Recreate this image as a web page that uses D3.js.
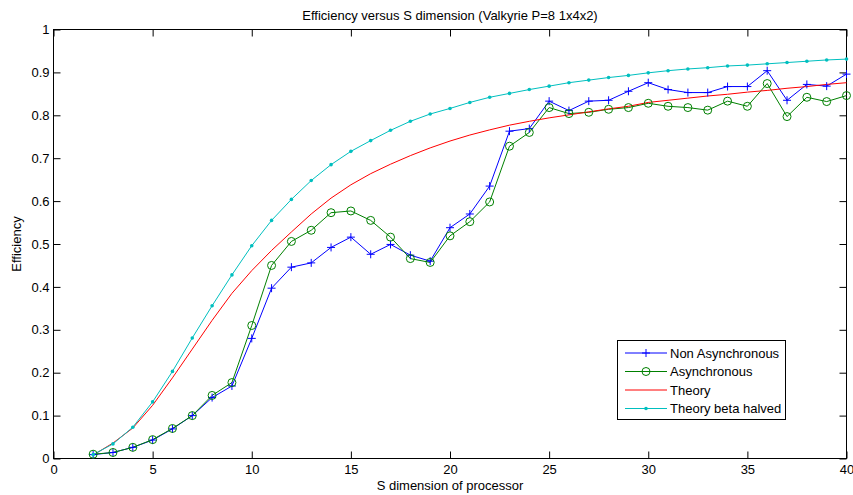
<!DOCTYPE html>
<html>
<head>
<meta charset="utf-8">
<script src="https://cdn.jsdelivr.net/npm/d3@7"></script>
<style>
  html, body { margin: 0; padding: 0; background: #fff; }
  svg { display: block; font-family: "Liberation Sans", Arial, sans-serif; }
</style>
</head>
<body>
<svg id="chart" width="853" height="495"></svg>
<script>
// ---- data ----
const sDim = [2,3,4,5,6,7,8,9,10,11,12,13,14,15,16,17,18,19,20,21,22,23,24,25,26,27,28,29,30,31,32,33,34,35,36,37,38,39,40];
const nonAsync = [0.009,0.014,0.026,0.043,0.069,0.100,0.142,0.169,0.280,0.397,0.446,0.456,0.492,0.516,0.476,0.499,0.474,0.460,0.538,0.570,0.635,0.763,0.769,0.833,0.811,0.833,0.835,0.856,0.876,0.860,0.853,0.853,0.867,0.867,0.904,0.835,0.872,0.868,0.896];
const asyncEff = [0.010,0.014,0.026,0.044,0.070,0.100,0.147,0.177,0.310,0.450,0.506,0.532,0.573,0.577,0.555,0.516,0.466,0.457,0.519,0.552,0.598,0.728,0.760,0.818,0.804,0.807,0.814,0.818,0.828,0.821,0.818,0.812,0.833,0.821,0.874,0.797,0.842,0.832,0.846];
const theory = [0.008,0.036,0.071,0.124,0.188,0.255,0.322,0.385,0.438,0.485,0.528,0.570,0.607,0.638,0.664,0.686,0.706,0.724,0.740,0.754,0.766,0.777,0.786,0.794,0.801,0.808,0.815,0.821,0.830,0.835,0.840,0.845,0.849,0.854,0.858,0.863,0.867,0.872,0.876];
const theoryHalf = [0.009,0.034,0.073,0.132,0.203,0.281,0.356,0.428,0.496,0.555,0.604,0.648,0.685,0.716,0.741,0.765,0.786,0.803,0.816,0.830,0.842,0.851,0.860,0.868,0.876,0.882,0.888,0.893,0.899,0.904,0.908,0.911,0.915,0.917,0.920,0.923,0.926,0.929,0.931];
const xTicks = [0,5,10,15,20,25,30,35,40];
const yTicks = [0,0.1,0.2,0.3,0.4,0.5,0.6,0.7,0.8,0.9,1];
const yTickLabels = ["0","0.1","0.2","0.3","0.4","0.5","0.6","0.7","0.8","0.9","1"];
const seriesNames = ["Non Asynchronous","Asynchronous","Theory","Theory beta halved"];
const titleText = "Efficiency versus S dimension (Valkyrie P=8 1x4x2)";
const xLabelText = "S dimension of processor";
const yLabelText = "Efficiency";

// ---- layout ----
const svg = d3.select("#chart");
const L = 53.5, R = 846.5, T = 29.5, B = 458.5;
const x = d3.scaleLinear().domain([0, 40]).range([L, R]);
const y = d3.scaleLinear().domain([0, 1]).range([B, T]);
const fontSize = 13;
const tickLen = 7;

// axes
const yLabelMap = new Map(yTicks.map((t, i) => [t, yTickLabels[i]]));
const gx = svg.append("g").attr("transform", `translate(0,${B})`)
  .call(d3.axisBottom(x).tickValues(xTicks).tickSize(-tickLen).tickSizeOuter(0).tickPadding(6).tickFormat(d3.format("d")));
const gxt = svg.append("g").attr("transform", `translate(0,${T})`)
  .call(d3.axisTop(x).tickValues(xTicks).tickSize(-tickLen).tickSizeOuter(0).tickFormat(""));
const gy = svg.append("g").attr("transform", `translate(${L},0)`)
  .call(d3.axisLeft(y).tickValues(yTicks).tickSize(-tickLen).tickSizeOuter(0).tickPadding(4).tickFormat(d => yLabelMap.get(d)));
const gyr = svg.append("g").attr("transform", `translate(${R},0)`)
  .call(d3.axisRight(y).tickValues(yTicks).tickSize(-tickLen).tickSizeOuter(0).tickFormat(""));
[gx, gxt, gy, gyr].forEach(g => {
  g.select(".domain").remove();
  g.selectAll(".tick line").attr("stroke", "#000");
  g.selectAll("text").attr("fill", "#000").style("font-size", fontSize + "px").style("font-family", "'Liberation Sans', Arial, sans-serif");
});

// frame
svg.append("rect").attr("x", L).attr("y", T).attr("width", R - L).attr("height", B - T)
  .attr("fill", "none").attr("stroke", "#000").attr("stroke-width", 1);

// series
const colors = ["#0000ff", "#008000", "#ff0000", "#00bfbf"];
const allSeries = [nonAsync, asyncEff, theory, theoryHalf];
const line = d3.line().x(d => x(d[0])).y(d => y(d[1]));
const plot = svg.append("g");
// draw order: theory beta halved, theory, async, non async? MATLAB draws in order given
allSeries.forEach((vals, i) => {
  const pts = sDim.map((s, j) => [s, vals[j]]);
  plot.append("path").datum(pts).attr("d", line)
    .attr("fill", "none").attr("stroke", colors[i]).attr("stroke-width", 1);
});

function plusMarker(g, cx, cy, col, h) {
  g.append("path").attr("d", `M${cx - h},${cy}H${cx + h}M${cx},${cy - h}V${cy + h}`)
    .attr("stroke", col).attr("stroke-width", 1).attr("fill", "none");
}
function circleMarker(g, cx, cy, col, r) {
  g.append("circle").attr("cx", cx).attr("cy", cy).attr("r", r)
    .attr("stroke", col).attr("stroke-width", 1).attr("fill", "none");
}
function dotMarker(g, cx, cy, col, r) {
  g.append("circle").attr("cx", cx).attr("cy", cy).attr("r", r).attr("fill", col);
}

sDim.forEach((s, j) => {
  plusMarker(plot, x(s), y(nonAsync[j]), colors[0], 4);
  circleMarker(plot, x(s), y(asyncEff[j]), colors[1], 4);
  dotMarker(plot, x(s), y(theoryHalf[j]), colors[3], 1.8);
});

// title & labels
svg.append("text").attr("x", (L + R) / 2).attr("y", 20).attr("text-anchor", "middle")
  .style("font-size", fontSize + "px").text(titleText);
svg.append("text").attr("x", (L + R) / 2).attr("y", 490).attr("text-anchor", "middle")
  .style("font-size", fontSize + "px").text(xLabelText);
svg.append("text").attr("transform", `translate(21,${(T + B) / 2}) rotate(-90)`).attr("text-anchor", "middle")
  .style("font-size", fontSize + "px").text(yLabelText);

// legend
const lg = svg.append("g");
const lx0 = 617.5, ly0 = 340.5, lw = 168, lh = 79;
lg.append("rect").attr("x", lx0).attr("y", ly0).attr("width", lw).attr("height", lh)
  .attr("fill", "#fff").attr("stroke", "#000").attr("stroke-width", 1);
const rowY = [353, 371.5, 390, 408.5];
seriesNames.forEach((name, i) => {
  const yy = rowY[i];
  lg.append("line").attr("x1", 625).attr("x2", 667).attr("y1", yy).attr("y2", yy)
    .attr("stroke", colors[i]).attr("stroke-width", 1);
  if (i === 0) plusMarker(lg, 646, yy, colors[0], 4);
  if (i === 1) circleMarker(lg, 646, yy, colors[1], 4);
  if (i === 3) dotMarker(lg, 646, yy, colors[3], 1.8);
  lg.append("text").attr("x", 670).attr("y", yy).attr("dy", "0.35em")
    .style("font-size", fontSize + "px").text(name);
});
</script>
</body>
</html>
